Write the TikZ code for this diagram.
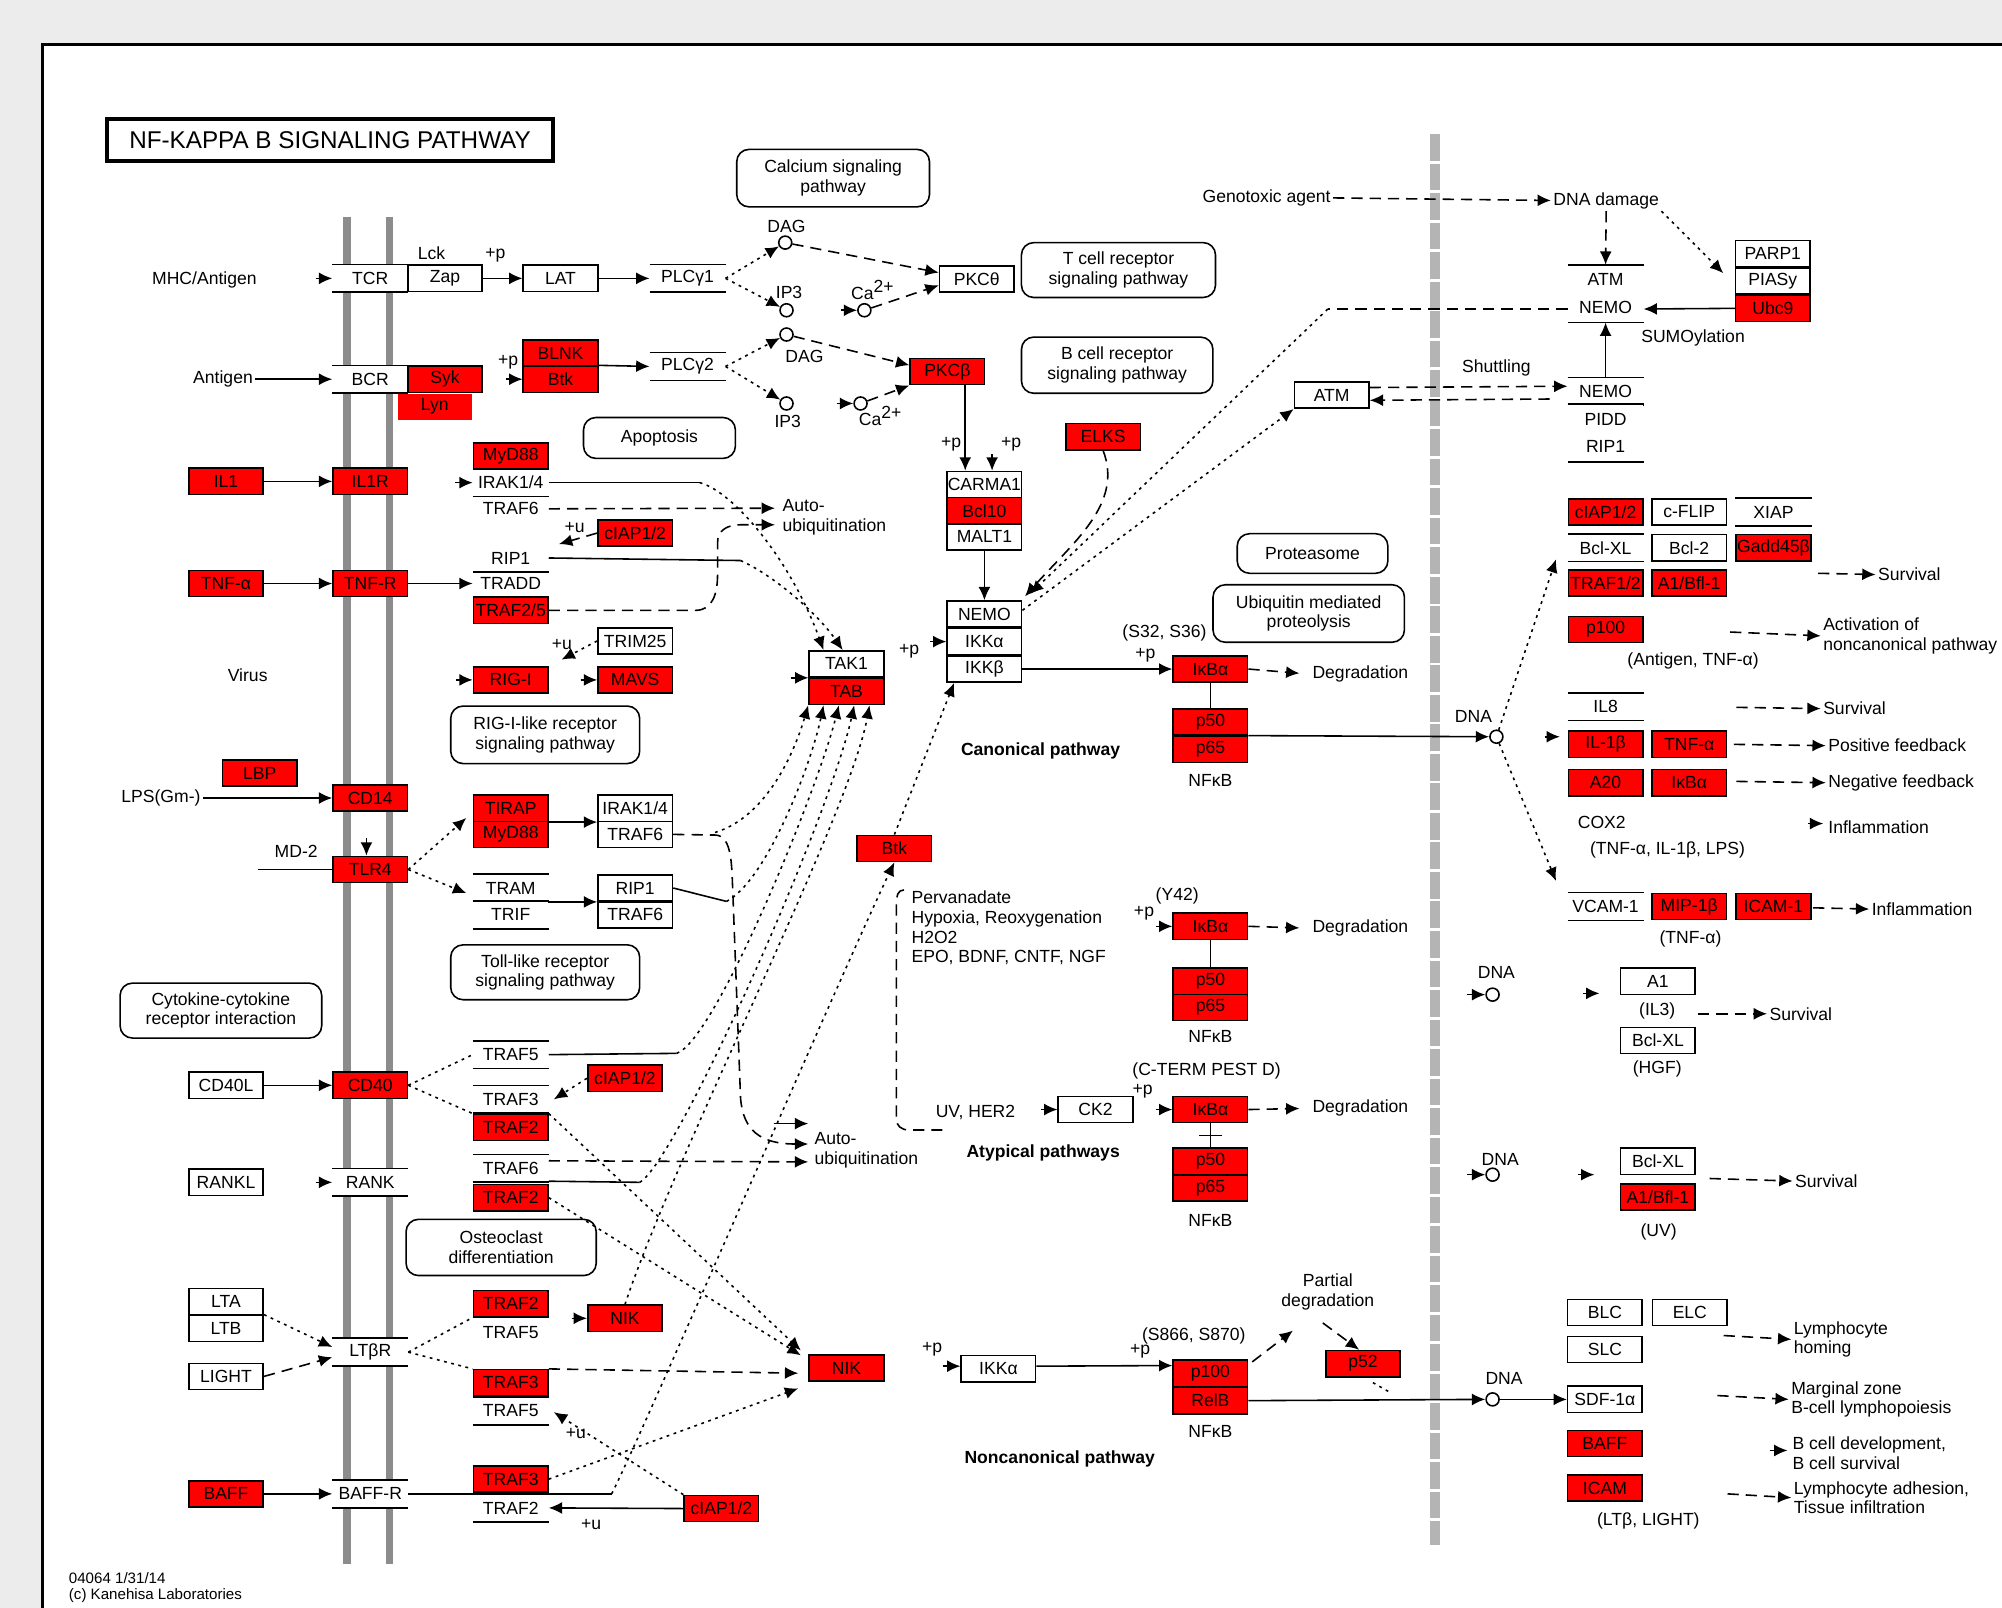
\documentclass[tikz,border=0pt]{standalone}
\usepackage{fontspec}
\setmainfont{Liberation Sans}
\usetikzlibrary{arrows.meta,calc}
\definecolor{keggred}{RGB}{255,0,0}
\definecolor{bggray}{RGB}{236,236,236}
\definecolor{membgray}{RGB}{140,140,140}
\definecolor{nucgray}{RGB}{180,180,180}
\newcommand{\keggfont}{\fontsize{5}{5.6}\selectfont}
\newcommand{\keggbold}{\fontsize{5}{5.6}\selectfont\bfseries}
\tikzset{
  gene/.style={draw, fill=white, minimum width=0.745cm, minimum height=0.262cm, inner sep=0pt, font=\keggfont},
  redgene/.style={gene, fill=keggred},
  redbare/.style={gene, draw=none, fill=keggred},
  tbgene/.style={gene, draw=none, append after command={(\tikzlastnode.north west) edge (\tikzlastnode.north east) (\tikzlastnode.south west) edge (\tikzlastnode.south east)}},
  bare/.style={gene, draw=none, fill=none},
  txt/.style={font=\keggfont, inner sep=0.5pt, align=left},
  mapbox/.style={draw, rounded corners=3.5pt, align=center, font=\keggfont, inner sep=1pt},
  cpd/.style={circle, draw, fill=white, minimum size=0.13cm, inner sep=0pt},
  act/.style={-{Latex[length=3.8pt,width=3.4pt]}},
  dashln/.style={dash pattern=on 3.2pt off 2pt},
  dotln/.style={dash pattern=on 0.8pt off 1.3pt},
}
\begin{document}
\begin{tikzpicture}[x=0.012768cm, y=-0.012768cm, line width=0.45pt]
\useasboundingbox (0,0) rectangle (1568,1259);
% frame
\fill[bggray] (0,0) rectangle (1568,1259);
\fill[white] (33,35) rectangle (1568,1259);
\draw[line width=0.8pt] (33,1259) -- (33,35) -- (1568,35);

% membranes
\draw[membgray, line width=2.2pt] (272,170) -- (272,1225) (305,170) -- (305,1225);
\draw[nucgray, line width=2.8pt, dash pattern=on 7.6pt off 0.8pt] (1124,105) -- (1124,1210);

% title
\node[draw, line width=1.1pt, minimum width=4.46cm, minimum height=0.42cm, inner sep=0pt, font=\fontsize{6.9}{7.5}\selectfont] (title) at (258.5,109.5) {NF-KAPPA B SIGNALING PATHWAY};

% pathway maps
\node[mapbox, minimum width=1.928cm, minimum height=0.575cm] (calcium) at (652.5,139.5) {Calcium signaling\\pathway};
\node[mapbox, minimum width=1.941cm, minimum height=0.549cm] (tcrmap) at (876,211.5) {T cell receptor\\signaling pathway};
\node[mapbox, minimum width=1.915cm, minimum height=0.562cm] (bcrmap) at (875,286) {B cell receptor\\signaling pathway};
\node[mapbox, minimum width=1.519cm, minimum height=0.409cm] (apopt) at (516.5,343) {Apoptosis};
\node[mapbox, minimum width=1.507cm, minimum height=0.396cm] (protea) at (1028,433.5) {Proteasome};
\node[mapbox, minimum width=1.915cm, minimum height=0.575cm] (ubiq) at (1025,480.5) {Ubiquitin mediated\\proteolysis};
\node[mapbox, minimum width=1.890cm, minimum height=0.575cm] (rigmap) at (427,575.5) {RIG-I-like receptor\\signaling pathway};
\node[mapbox, minimum width=1.890cm, minimum height=0.549cm] (tlrmap) at (427,761.5) {Toll-like receptor\\signaling pathway};
\node[mapbox, minimum width=2.017cm, minimum height=0.549cm] (cytok) at (173,791.5) {Cytokine-cytokine\\receptor interaction};
\node[mapbox, minimum width=1.902cm, minimum height=0.562cm] (osteo) at (392.5,977) {Osteoclast\\differentiation};

% T cell receptor
\node[txt, anchor=east] (mhc) at (203,219) {MHC/Antigen};
\node[tbgene] (tcr) at (290,218) {TCR};
\node[gene] (zap) at (348.5,218) {Zap};
\node[txt] (lck) at (338,198) {Lck};
\node[txt] (lckp) at (388,200) {+p};
\node[gene] (lat) at (439,218) {LAT};
\node[tbgene] (plcg1) at (538.5,218) {PLCγ1};
\node[cpd] (dag1) at (615,190) {};
\node[txt] (dag1l) at (616,177) {DAG};
\node[cpd] (ip3a) at (616,243) {};
\node[txt] (ip3al) at (618,229) {IP3};
\node[cpd] (ca1) at (677,243) {};
\node[txt] (ca1l) at (684,227) {Ca\textsuperscript{2+}};
\node[gene] (pkct) at (765,218.5) {PKCθ};

% B cell receptor
\node[txt, anchor=east] (antigen) at (200,297) {Antigen};
\node[tbgene] (bcr) at (290,297) {BCR};
\node[redgene] (syk) at (348.5,297) {Syk};
\node[redbare] (lyn) at (340.5,318.5) {Lyn};
\node[txt] (btkp) at (398,284) {+p};
\node[redgene] (blnk) at (439,276.5) {BLNK};
\node[redgene] (btk) at (439,297) {Btk};
\node[tbgene] (plcg2) at (538.5,287) {PLCγ2};
\node[cpd] (dag2) at (616,262) {};
\node[txt] (dag2l) at (630,279) {DAG};
\node[cpd] (ip3b) at (616,316) {};
\node[txt] (ip3bl) at (617,330) {IP3};
\node[cpd] (ca2) at (674,316) {};
\node[txt] (ca2l) at (690,326) {Ca\textsuperscript{2+}};
\node[redgene] (pkcb) at (742,291) {PKCβ};

% IL1 and TNF
\node[redgene] (il1) at (177,377) {IL1};
\node[redgene] (il1r) at (290,377) {IL1R};
\node[redgene] (myd88a) at (400,357) {MyD88};
\node[tbgene] (irak14a) at (400,378) {IRAK1/4};
\node[bare] (traf6a) at (400,398.5) {TRAF6};
\node[redgene] (tnfa) at (177,457) {TNF-α};
\node[redgene] (tnfr) at (290,457) {TNF-R};
\node[bare] (rip1a) at (400,437) {RIP1};
\node[bare] (tradd) at (400,457) {TRADD};
\node[redgene] (traf25) at (400,478) {TRAF2/5};
\node[redgene] (ciapa) at (497.5,417.5) {cIAP1/2};
\node[txt] (ciapau) at (450,413) {+u};
\node[gene] (trim25) at (497.5,502) {TRIM25};
\node[txt] (trimu) at (440,505) {+u};
\node[redgene] (rigi) at (400,532.5) {RIG-I};
\node[redgene] (mavs) at (497.5,532.5) {MAVS};
\node[txt] (virus) at (194,529) {Virus};

% LPS
\node[redgene] (lbp) at (203.5,605.5) {LBP};
\node[txt, anchor=east] (lps) at (159,625) {LPS(Gm-)};
\node[redgene] (cd14) at (290,625) {CD14};
\node[redgene] (tlr4) at (290,681) {TLR4};
\node[txt] (md2) at (232,667) {MD-2};
\coordinate (md2s) at (202,681);
\node[redgene] (tirap) at (400,633) {TIRAP};
\node[redgene] (myd88b) at (400,653.5) {MyD88};
\node[tbgene] (tram) at (400,695.5) {TRAM};
\node[tbgene] (trif) at (400,716.5) {TRIF};
\node[gene] (irak14b) at (497.5,633) {IRAK1/4};
\node[gene] (traf6b) at (497.5,653.5) {TRAF6};
\node[gene] (rip1b) at (497.5,695.5) {RIP1};
\node[gene] (traf6c) at (497.5,716.5) {TRAF6};

% CD40, RANK
\node[gene] (cd40l) at (177,850) {CD40L};
\node[redgene] (cd40) at (290,850) {CD40};
\node[tbgene] (trafa) at (400,826) {TRAF5};
\node[tbgene] (trafb) at (400,861) {TRAF3};
\node[redgene] (trafc) at (400,883) {TRAF2};
\node[redgene] (ciapc) at (489.5,844.5) {cIAP1/2};
\node[gene] (rankl) at (177,926) {RANKL};
\node[tbgene] (rank) at (290,926) {RANK};
\node[tbgene] (trafd) at (400,915) {TRAF6};
\node[redgene] (trafe) at (400,938) {TRAF2};

% LTbR, BAFF-R
\node[gene] (lta) at (177,1019.5) {LTA};
\node[gene] (ltb) at (177,1040.5) {LTB};
\node[gene] (light) at (177,1078) {LIGHT};
\node[tbgene] (ltbr) at (290,1059) {LTβR};
\node[redgene] (traff) at (400,1021) {TRAF2};
\node[txt] (traff5) at (400,1044) {TRAF5};
\node[redgene] (trafg) at (400,1083) {TRAF3};
\node[tbgene] (trafh) at (400,1105) {TRAF5};
\node[redgene] (xbox) at (489.5,1032.5) {NIK};
\node[redgene] (baff) at (177,1170) {BAFF};
\node[tbgene] (baffr) at (290,1170) {BAFF-R};
\node[redgene] (trafi) at (400,1158.5) {TRAF3};
\node[tbgene] (trafj) at (400,1181) {TRAF2};
\node[redgene] (ciapd) at (565,1181.5) {cIAP1/2};
\node[txt] (ciapdu) at (463,1194) {+u};
\node[txt] (trafhu) at (451,1123) {+u};

% TAK1 and IKK
\node[gene] (tak1) at (663,520) {TAK1};
\node[redgene] (tab) at (663,541.5) {TAB};
\node[gene] (carma1) at (771,379.5) {CARMA1};
\node[redgene] (bcl10) at (771,400) {Bcl10};
\node[gene] (malt1) at (771,420.5) {MALT1};
\node[txt] (carp1) at (745,348) {+p};
\node[txt] (carp2) at (792,348) {+p};
\node[gene] (nemo) at (771,481) {NEMO};
\node[gene] (ikka) at (771,502.5) {IKKα};
\node[gene] (ikkb) at (771,524) {IKKβ};
\node[txt] (ikkp) at (712,510) {+p};
\node[redgene] (elks) at (864,342) {ELKS};
\node[redgene] (btkb) at (700.5,664.5) {Btk};

% canonical pathway
\node[txt] (s3236) at (912,496) {(S32, S36)};
\node[txt] (ikbap) at (897,513) {+p};
\node[redgene] (ikba) at (948,524) {IκBα};
\node[txt, anchor=west] (deg1) at (1026,528) {Degradation};
\node[redgene] (p50a) at (948,565.5) {p50};
\node[redgene] (p65a) at (948,587) {p65};
\node[txt] (nfkba) at (948,611) {NFκB};
\node[font=\keggbold] (canon) at (815,588) {Canonical pathway};

% atypical pathways
\node[txt, anchor=north west] (stim) at (712,696) {Pervanadate\\Hypoxia, Reoxygenation\\H2O2\\EPO, BDNF, CNTF, NGF};
\node[txt] (y42) at (922,702) {(Y42)};
\node[txt] (ikbbp) at (896,715) {+p};
\node[redgene] (ikbb) at (948,725.5) {IκBα};
\node[txt, anchor=west] (deg2) at (1026,727) {Degradation};
\node[redgene] (p50b) at (948,768.5) {p50};
\node[redgene] (p65b) at (948,789) {p65};
\node[txt] (nfkbb) at (948,812) {NFκB};
\node[txt] (uvher) at (764,871) {UV, HER2};
\node[gene] (ck2) at (858,869) {CK2};
\node[txt] (cterm) at (945,839) {(C-TERM PEST D)};
\node[txt] (ikbcp) at (895,855) {+p};
\node[redgene] (ikbc) at (948,869) {IκBα};
\node[txt, anchor=west] (deg3) at (1026,868) {Degradation};
\node[redgene] (p50c) at (948,909.5) {p50};
\node[redgene] (p65c) at (948,930.5) {p65};
\node[txt] (nfkbc) at (948,956) {NFκB};
\node[font=\keggbold] (atyp) at (817,903) {Atypical pathways};

% auto-ubiquitination
\node[txt, anchor=west] (autoa) at (611,405) {Auto-\\ubiquitination};
\node[txt, anchor=west] (autob) at (636,901) {Auto-\\ubiquitination};
\coordinate (au1) at (607,398);
\coordinate (au2) at (607,411);
\coordinate (au4) at (633,880);
\coordinate (au5) at (633,896);
\coordinate (au6) at (633,910);

% noncanonical pathway
\node[redgene] (nik) at (663,1071.5) {NIK};
\node[txt] (nikp) at (730,1057) {+p};
\node[gene] (ikkan) at (782,1072) {IKKα};
\node[txt] (s866) at (935,1046) {(S866, S870)};
\node[txt] (p100p) at (893,1058) {+p};
\node[redgene] (p100) at (948,1075.5) {p100};
\node[redgene] (relb) at (948,1097) {RelB};
\node[txt] (nfkbd) at (948,1121) {NFκB};
\node[txt, align=center] (pdeg) at (1040,1012) {Partial\\degradation};
\node[redgene] (p52) at (1067.5,1068) {p52};
\node[font=\keggbold] (noncan) at (830,1143) {Noncanonical pathway};

% DNA damage
\node[txt] (genotox) at (992,155) {Genotoxic agent};
\node[txt] (dnadmg) at (1258,157) {DNA damage};
\node[tbgene, minimum height=0.562cm, align=center] (atmnemo) at (1257.5,230) {ATM\\[2.5pt]NEMO};
\node[gene] (parp1) at (1388.5,198.5) {PARP1};
\node[gene] (piasy) at (1388.5,220) {PIASy};
\node[redgene] (ubc9) at (1388.5,241.5) {Ubc9};
\node[txt] (sumo) at (1326,265) {SUMOylation};
\node[tbgene] (nemon) at (1257.5,306.5) {NEMO};
\node[tbgene, minimum height=0.562cm, align=center] (piddrip) at (1257.5,339) {PIDD\\[2pt]RIP1};
\node[gene] (atmc) at (1043,309.5) {ATM};
\node[txt] (shuttle) at (1172,288) {Shuttling};

% nuclear targets
\node[cpd] (dnaa) at (1172,577) {};
\node[txt] (dnaal) at (1154,561) {DNA};
\node[redgene] (ciapn) at (1257.5,401) {cIAP1/2};
\node[gene] (cflip) at (1323,401) {c-FLIP};
\node[tbgene] (xiap) at (1389,401) {XIAP};
\node[tbgene] (bclxla) at (1257.5,429) {Bcl-XL};
\node[gene] (bcl2) at (1323,429) {Bcl-2};
\node[redgene] (gadd) at (1389,429) {Gadd45β};
\node[redgene] (traf12) at (1257.5,456.5) {TRAF1/2};
\node[redgene] (bfl1) at (1323,456.5) {A1/Bfl-1};
\node[txt, anchor=west] (surv1) at (1469,450) {Survival};
\node[redgene] (p100n) at (1257.5,493) {p100};
\node[txt] (antnf) at (1326,518) {(Antigen, TNF-α)};
\node[txt, anchor=west] (actnc) at (1426,498) {Activation of\\noncanonical pathway};
\node[tbgene] (il8) at (1257.5,553.5) {IL8};
\node[txt, anchor=west] (surv2) at (1426,555) {Survival};
\node[redgene] (il1b) at (1257.5,583) {IL-1β};
\node[redgene] (tnfan) at (1323,583) {TNF-α};
\node[txt, anchor=west] (posfb) at (1430,584) {Positive feedback};
\node[redgene] (a20) at (1257.5,613) {A20};
\node[redgene] (ikbn) at (1323,613) {IκBα};
\node[txt, anchor=west] (negfb) at (1430,613) {Negative feedback};
\node[txt] (cox2) at (1254.5,644) {COX2};
\node[txt, anchor=west] (infl1) at (1430,648) {Inflammation};
\node[txt] (tilps) at (1306,666) {(TNF-α, IL-1β, LPS)};
\node[tbgene] (vcam) at (1257.5,710) {VCAM-1};
\node[redgene] (mip) at (1323,710) {MIP-1β};
\node[redgene] (icam1) at (1389,710) {ICAM-1};
\node[txt, anchor=west] (infl2) at (1464,712) {Inflammation};
\node[txt] (tnfx) at (1324,735) {(TNF-α)};

\node[cpd] (dnab) at (1169,779) {};
\node[txt] (dnabl) at (1172,762) {DNA};
\node[gene] (bfl2) at (1298.5,768.5) {A1};
\node[txt] (il3) at (1298,792) {(IL3)};
\node[gene] (bclxlb) at (1298.5,815) {Bcl-XL};
\node[txt] (hgf) at (1298,837) {(HGF)};
\node[txt, anchor=west] (surv3) at (1384,794) {Survival};
\node[cpd] (dnac) at (1169,920) {};
\node[txt] (dnacl) at (1175,908) {DNA};
\node[gene] (bclxlc) at (1298.5,909.5) {Bcl-XL};
\node[redgene] (uvred) at (1298.5,937.5) {A1/Bfl-1};
\node[txt] (uv) at (1299,965) {(UV)};
\node[txt, anchor=west] (surv4) at (1404,925) {Survival};
\node[gene] (blc) at (1257,1028) {BLC};
\node[gene] (elc) at (1323.5,1028) {ELC};
\node[gene] (slc) at (1257,1057) {SLC};
\node[txt, anchor=west] (homing) at (1403,1049) {Lymphocyte\\homing};
\node[cpd] (dnad) at (1169,1096) {};
\node[txt] (dnadl) at (1178,1080) {DNA};
\node[gene] (sdf) at (1257,1096) {SDF-1α};
\node[txt, anchor=west] (mzb) at (1401,1096) {Marginal zone\\B-cell lymphopoiesis};
\node[redgene] (baffn) at (1257,1130.5) {BAFF};
\node[txt, anchor=west] (bdev) at (1402,1138) {B cell development,\\B cell survival};
\node[redgene] (icamn) at (1257,1165.5) {ICAM};
\node[txt, anchor=west] (adhes) at (1403,1173) {Lymphocyte adhesion,\\Tissue infiltration};
\node[txt] (ltlight) at (1291,1191) {(LTβ, LIGHT)};

\node[txt, anchor=south west, font=\fontsize{4.3}{4.6}\selectfont] (stamp) at (52,1257) {04064 1/31/14\\(c) Kanehisa Laboratories};

% ---- connectors: T and B cell receptors
\draw[act] ($(tcr.west)+(-13,0)$) -- (tcr.west);
\draw[act] (zap) -- (lat);
\draw[act] (lat) -- (plcg1);
\draw[dotln, act] (plcg1.east) -- (dag1);
\draw[dotln, act] (plcg1.east) -- (ip3a);
\draw[dashln, act] (dag1) -- ($(pkct.west)+(0,-5)$);
\draw[act] ($(ca1.west)+(-13,0)$) -- (ca1.west);
\draw[dashln, act] (ca1) -- ($(pkct.west)+(0,5)$);
\draw[act] (antigen) -- (bcr);
\draw[act] ($(btk.west)+(-13,0)$) -- (btk.west);
\draw[act] (btk.north east) -- (plcg2.west);
\draw[dotln, act] (plcg2.east) -- (dag2);
\draw[dotln, act] (plcg2.east) -- (ip3b);
\draw[dashln, act] (dag2) -- ($(pkcb.west)+(0,-5)$);
\draw[act] ($(ca2.west)+(-13,0)$) -- (ca2.west);
\draw[dashln, act] (ca2) -- (pkcb.south west);
\draw[act] ($(pkcb.south)+(14,0)$) -- ($(carma1.north)+(-15,0)$);
\draw[act] ($(carma1.north)+(6,-13)$) -- ($(carma1.north)+(6,0)$);
\draw[act] (malt1) -- (nemo);

% IL1 / TNF / RIG-I
\draw[act] (il1) -- (il1r);
\draw[act] ($(irak14a.west)+(-14,0)$) -- (irak14a.west);
\coordinate (ir) at (548,378);
\draw (irak14a.east) -- (ir);
\draw[dotln, act] (ir) .. controls (575,385) and (620,440) .. ($(tak1.north)+(-18,0)$);
\draw[dashln, act] (traf6a.east) -- (au1);
\draw[act] (tnfa) -- (tnfr);
\draw[act] (tnfr) -- (tradd);
\draw (rip1a.south west) -- (rip1a.south east);
\coordinate (rp) at (580,439);
\draw (rip1a.east) -- (rp);
\draw[dotln, act] (rp) .. controls (605,450) and (640,480) .. ($(tak1.north)+(-3,0)$);
\draw[dashln, act] (traf25.east) -- (545,478) .. controls (558,478) and (562,465) .. (562,450) -- (562,425) .. controls (562,415) and (570,411) .. (580,411) -- (au2);
\draw[dashln, act] (ciapa.west) -- ($(rip1a.north east)+(8,0)$);
\draw[dotln, act] (trim25.west) -- ($(rigi.north east)+(10,-5)$);
\draw[act] ($(rigi.west)+(-13,0)$) -- (rigi.west);
\draw[act] ($(mavs.west)+(-13,0)$) -- (mavs.west);

% LPS
\draw[act] (lps) -- (cd14);
\draw[act] ($(tlr4.north)+(-3,-14)$) -- ($(tlr4.north)+(-3,0)$);
\draw (md2s) -- (tlr4.west);
\draw[dotln, act] (tlr4.east) -- ($(myd88b.north west)+(-5,-2)$);
\draw[dotln, act] (tlr4.east) -- ($(tram.west)+(-5,4)$);
\draw[act] (tirap.south east) -- (irak14b.south west);
\draw[act] (tram.south east) -- (rip1b.south west);
\draw[dashln, act] (traf6b.east) -- (560,654) .. controls (574,654) and (573,680) .. (574,700) -- (580,860) .. controls (582,885) and (595,896) .. (au5);
\draw[dotln, act] (560,652) .. controls (600,640) and (622,590) .. ($(tab.south)+(-30,0)$);
\coordinate (rp2) at (569,706);
\draw (rip1b.east) -- (rp2);
\draw[dotln, act] (rp2) .. controls (600,690) and (635,600) .. ($(tab.south)+(-18,0)$);

% CD40 / RANK / LTbR / BAFF-R
\draw[act] (cd40l) -- (cd40);
\draw[dotln] (cd40.east) -- (trafa.west);
\draw[dotln] (cd40.east) -- (trafc.north west);
\draw[dotln, act] (ciapc.west) -- ($(trafb.east)+(4,0)$);
\coordinate (rp3) at (530,825);
\draw (trafa.east) -- (rp3);
\draw[dotln, act] (rp3) .. controls (560,815) and (640,620) .. ($(tab.south)+(-6,0)$);
\coordinate (rp4) at (501,926);
\draw ($(trafe.north east)+(0,-2)$) -- (rp4);
\draw[dotln, act] (rp4) .. controls (530,910) and (650,640) .. ($(tab.south)+(6,0)$);
\draw[dotln, act] (xbox.north) .. controls (530,900) and (665,640) .. ($(tab.south)+(18,0)$);
\draw[dashln, act] ($(trafd.north east)+(0,5)$) -- (au6);
\draw[act] ($(rank.west)+(-13,0)$) -- (rank.west);
\draw[dotln, act] (ltb.north east) -- ($(ltbr.west)+(0,-4)$);
\draw[dashln, act] (light.east) -- ($(ltbr.west)+(0,4)$);
\draw[dotln] (ltbr.east) -- (traff.south west);
\draw[dotln] (ltbr.east) -- (trafg.north west);
\draw[act] ($(xbox.west)+(-12,0)$) -- (xbox.west);
\draw[act] (baff) -- (baffr);
\coordinate (rp5) at (479,1170);
\draw (baffr.east) -- (rp5);
\draw[dotln, act] (rp5) .. controls (500,1130) and (660,760) .. (btkb.south);
\coordinate (bk) at (606,880);
\draw[act] (bk) -- (au4);
\draw[act] (ciapd.west) -- (trafj.east);
\draw[dotln, act] (ciapd.north west) -- ($(trafh.east)+(4,1)$);
\draw[dotln, act] (trafc.north east) -- ($(nik.north west)+(-6,-3)$);
\draw[dotln, act] (trafe.east) -- ($(nik.west)+(-6,-10)$);
\draw[dashln, act] (trafg.north east) -- ($(nik.west)+(-8,4)$);
\draw[dotln, act] (trafi.east) -- ($(nik.south west)+(-8,5)$);

% TAK1 / IKK
\draw[act] ($(tak1.south west)+(-14,0)$) -- (tak1.south west);
\draw[act] ($(ikka.west)+(-13,0)$) -- (ikka.west);
\draw[dotln, act] (btkb.north) -- ($(ikkb.south west)+(6,0)$);
\draw[dashln, act] (elks.south) .. controls (880,395) and (840,425) .. ($(nemo.north east)+(2,-3)$);
\coordinate (atmk) at (1040,242);
\draw[dashln] ($(atmnemo.west)+(0,12)$) -- (atmk);
\draw[dotln, act] (atmk) -- ($(nemo.north east)+(6,-5)$);
\draw[dotln, act] ($(nemo.east)+(0,-3)$) -- (atmc.south west);

% canonical
\draw[act] (ikkb.east) -- (ikba.west);
\draw[dashln, act, shorten >=3pt] (ikba.east) -- (deg1.west);
\draw (ikba) -- (p50a);
\draw[act] (p65a.north east) -- (dnaa.west);

% atypical
\draw[dashln] (708,697) .. controls (703,697) and (702,702) .. (702,708) -- (702,876) .. controls (702,882) and (706,885) .. (712,885) -- (738,885);
\draw[act] ($(ikbb.west)+(-13,0)$) -- (ikbb.west);
\draw[dashln, act, shorten >=3pt] (ikbb.east) -- (deg2.west);
\draw (ikbb) -- (p50b);
\draw[act] ($(ck2.west)+(-13,0)$) -- (ck2.west);
\draw[act] ($(ikbc.west)+(-13,0)$) -- (ikbc.west);
\draw[dashln, act, shorten >=3pt] (ikbc.east) -- (deg3.west);
\draw (ikbc) -- (p50c);
\coordinate (cbar) at ($(ikbc.south)!0.5!(p50c.north)$);
\draw ($(cbar)+(-9,0)$) -- ($(cbar)+(9,0)$);

% noncanonical
\draw[act] ($(ikkan.west)+(-14,-2)$) -- ($(ikkan.west)+(0,-2)$);
\draw[act] ($(ikkan.east)+(0,-2)$) -- ($(p100.west)+(0,-6)$);
\draw[dashln, act] ($(p100.north east)+(3,2)$) -- ($(pdeg.south west)+(11,14)$);
\draw[dashln, act] ($(pdeg.south)+(-4,8)$) -- ($(p52.north)+(-3,0)$);
\draw[dotln] ($(p52.south east)+(-22,4)$) -- ($(p52.south east)+(-8,12)$);
\draw[act] (relb.east) -- (dnad.west);

% DNA damage
\draw[dashln, act] (genotox.east) -- (dnadmg.west);
\draw[dashln, act] (dnadmg.south) -- (atmnemo.north);
\draw[dotln, act] (dnadmg.south east) -- ($(piasy.west)+(-9,-6)$);
\draw[act] (ubc9.west) -- ($(atmnemo.east)+(0,12)$);
\draw[act] (nemon.north) -- (atmnemo.south);
\draw[dashln, act] ($(atmc.east)+(0,-6)$) -- ($(nemon.west)+(0,-4)$);
\draw[dashln, act] ($(nemon.west)+(-14,6)$) -- ($(atmc.east)+(0,4)$);

% nucleus
\draw[dotln, act] (dnaa) -- ($(bclxla.west)+(-9,9)$);
\draw[dotln, act] (dnaa) -- ($(vcam.west)+(-9,-20)$);
\draw[act] ($(il1b.west)+(-18,-6)$) -- ($(il1b.west)+(-6,-6)$);
\coordinate (s1) at (1424,449);
\draw[dashln, act] (s1) -- (surv1.west);
\coordinate (s2) at (1355,495);
\draw[dashln, act] (s2) -- (actnc.west);
\coordinate (s3) at (1360,554);
\draw[dashln, act] (s3) -- (surv2.west);
\coordinate (s4) at (1358,583);
\draw[dashln, act] (s4) -- (posfb.west);
\coordinate (s5) at (1360,612);
\draw[dashln, act] (s5) -- (negfb.west);
\draw[act] ($(infl1.west)+(-14,-3)$) -- ($(infl1.west)+(-2,-3)$);
\coordinate (s6) at (1420,711);
\draw[dashln, act] (s6) -- (infl2.west);
\draw[act] ($(dnab.west)+(-14,0)$) -- (dnab.west);
\draw[act] ($(dnab.east)+(65,-1)$) -- ($(dnab.east)+(78,-1)$);
\coordinate (s7) at (1330,794);
\draw[dashln, act] (s7) -- (surv3.west);
\draw[act] ($(dnac.west)+(-14,0)$) -- (dnac.west);
\draw[act] ($(dnac.east)+(61,0)$) -- ($(dnac.east)+(74,0)$);
\coordinate (s8) at (1339,923);
\draw[dashln, act] (s8) -- (surv4.west);
\coordinate (s9) at (1350,1046);
\draw[dashln, act] (s9) -- (homing.west);
\draw[act] (dnad.east) -- (sdf.west);
\coordinate (s10) at (1345,1093);
\draw[dashln, act] (s10) -- (mzb.west);
\draw[act] ($(bdev.west)+(-16,-2)$) -- ($(bdev.west)+(-2,-2)$);
\coordinate (s11) at (1353,1170);
\draw[dashln, act] (s11) -- (adhes.west);
\end{tikzpicture}
\end{document}
